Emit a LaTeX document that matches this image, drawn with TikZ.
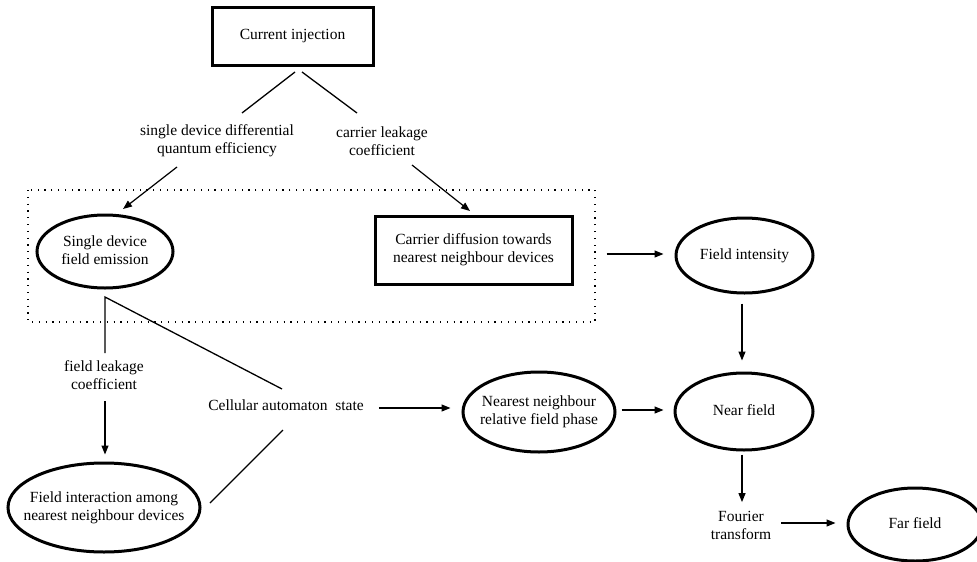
\documentclass[tikz,border=0pt]{standalone}
\usepackage{fontspec}
\setmainfont{Liberation Serif}
\usetikzlibrary{shapes.geometric,arrows.meta,calc}
\newcommand{\zw}[1]{\makebox[0pt]{\begin{tabular}{@{}c@{}}#1\end{tabular}}}
\begin{document}
\begin{tikzpicture}[x=1pt,y=-1pt,
  every node/.style={font=\fontsize{15.5}{18}\selectfont, align=center, inner sep=2pt},
  ell/.style={ellipse, draw, line width=3pt, inner sep=0pt},
  boxn/.style={rectangle, draw, line width=3pt, inner sep=0pt},
  arr/.style={-{Triangle[length=9pt,width=7pt]}, line width=1.2pt},
  ln/.style={line width=1.3pt},
  dotbox/.style={line width=1.2pt, dash pattern=on 1.2pt off 5.6pt}]
\useasboundingbox (0,0) rectangle (977,562);

% nodes
\node[boxn, minimum width=161pt, minimum height=58pt] (ci) at (292.5,36) {Current injection};
\node (lab1) at (217,141) {single device differential\\quantum efficiency};
\node (lab2) at (382,141) {carrier leakage\\coefficient};
\node[ell, minimum width=136pt, minimum height=73pt] (sde) at (105,251.5) {\zw{Single device\\field emission}};
\node[boxn, minimum width=197pt, minimum height=68pt] (cd) at (473.5,250) {Carrier diffusion towards\\nearest neighbour devices};
\node[ell, minimum width=137pt, minimum height=75pt] (fi) at (744.5,255.5) {\zw{Field intensity}};
\node (flc) at (104,375.5) {field leakage\\coefficient};
\node (ca) at (286,405) {Cellular automaton\ \ state};
\node[ell, minimum width=152pt, minimum height=80pt] (nn) at (539,412) {\zw{Nearest neighbour\\relative field phase}};
\node[ell, minimum width=138pt, minimum height=77pt] (nf) at (744,411.5) {\zw{Near field}};
\node[ell, minimum width=192pt, minimum height=89pt] (fie) at (104,507.5) {\zw{Field interaction among\\nearest neighbour devices}};
\node (ft) at (741,525.5) {Fourier\\transform};
\node[ell, minimum width=134pt, minimum height=73pt] (ff) at (915,524.5) {\zw{Far field}};

% dotted enclosure
\draw[dotbox] (28,190) rectangle (595,322);

% free-end coordinates
\coordinate (ciL) at (295,72);
\coordinate (l1T) at (242,113);
\coordinate (ciR) at (302,72);
\coordinate (l2T) at (357,113);
\coordinate (l1B) at (177,167);
\coordinate (sdeT) at (123,209);
\coordinate (l2B) at (412,165);
\coordinate (cdT) at (470,211);
\coordinate (sdeB) at (105,297);
\coordinate (caUL) at (282,389);
\coordinate (flcT) at (105,353);
\coordinate (caLL) at (283,430);
\coordinate (fieR) at (210,503);

% connectors
\draw[ln] (ciL) -- (l1T);
\draw[ln] (ciR) -- (l2T);
\draw[arr] (l1B) -- (sdeT);
\draw[arr] (l2B) -- (cdT);
\draw[ln] (caUL) -- (sdeB) -- (flcT);
\draw[arr] ($(flc.south)+(1,9)$) -- ($(fie.north)+(1,-7)$);
\draw[ln] (caLL) -- (fieR);
\draw[arr] ($(cd.east)+(33,4)$) -- ($(fi.west)+(-11,-1.5)$);
\draw[arr] ($(ca.east)+(13,3)$) -- ($(nn.west)+(-11,-4)$);
\draw[arr] ($(nn.east)+(5,-2)$) -- ($(nf.west)+(-10,-1.5)$);
\draw[arr] ($(fi.south)+(-2.5,9)$) -- ($(nf.north)+(-2,-11)$);
\draw[arr] ($(nf.south)+(-2,3)$) -- ($(ft.north)+(1,-7)$);
\draw[arr] ($(ft.east)+(8,-2.5)$) -- ($(ff.west)+(-11,-1.5)$);
\end{tikzpicture}
\end{document}
